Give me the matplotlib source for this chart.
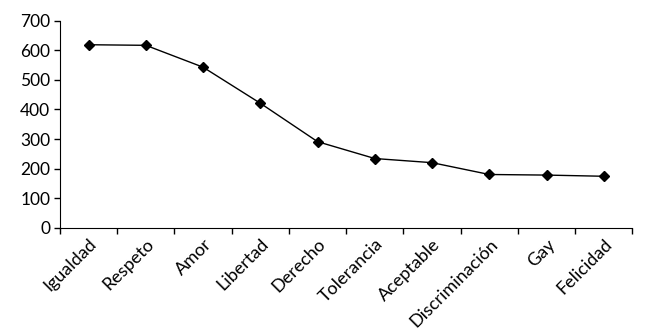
import numpy as np
import matplotlib.pyplot as plt

categories = ['Igualdad', 'Respeto', 'Amor', 'Libertad', 'Derecho', 'Tolerancia',
              'Aceptable', 'Discriminación', 'Gay', 'Felicidad']
values = [619, 617, 543, 421, 291, 234, 220, 180, 178, 174]
yticks = [0, 100, 200, 300, 400, 500, 600, 700]

plt.rcParams['font.family'] = ['Lato', 'DejaVu Sans']

fig = plt.figure(figsize=(6.52, 3.30), dpi=100)
ax = fig.add_axes([0.092, 0.31, 0.878, 0.627])

x = np.arange(len(categories))
ax.plot(x, values, color='black', linewidth=1, marker='D', markersize=5)

ax.set_xlim(-0.5, len(categories) - 0.5)
ax.set_ylim(0, 700)
ax.set_yticks(yticks)
ax.tick_params(axis='y', labelsize=12.5, length=4, width=1, direction='out', pad=3)

# category labels centred between the boundary ticks
ax.set_xticks(x)
ax.set_xticklabels(categories, rotation=45, ha='right', rotation_mode='anchor', fontsize=13)
ax.tick_params(axis='x', which='major', length=0, pad=6)
ax.set_xticks(np.arange(len(categories) + 1) - 0.5, minor=True)
ax.tick_params(axis='x', which='minor', length=4, width=1)

ax.spines['top'].set_visible(False)
ax.spines['right'].set_visible(False)

plt.savefig('out.png', dpi=100)
